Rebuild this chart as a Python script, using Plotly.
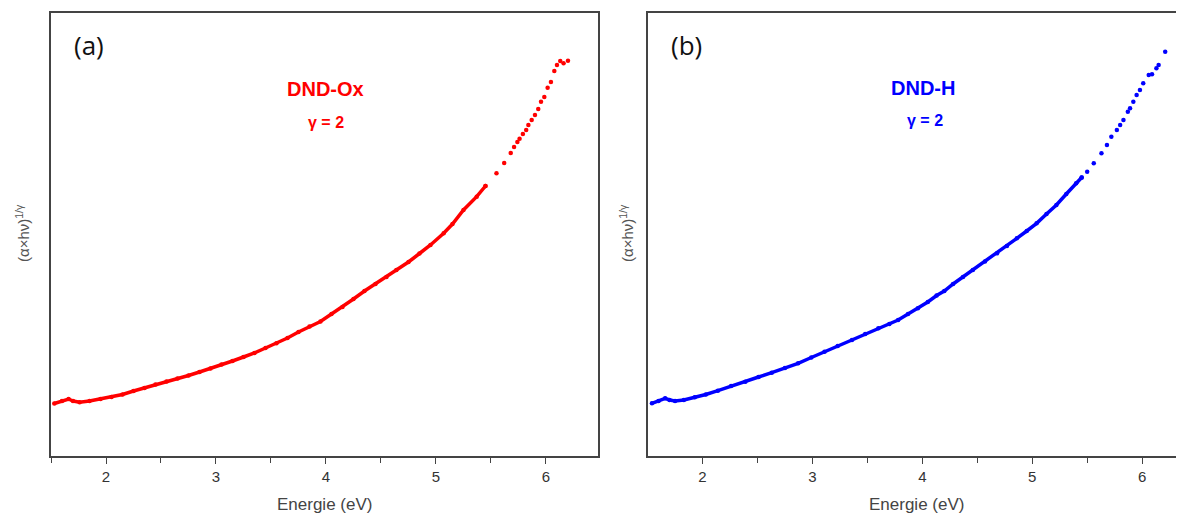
import plotly.graph_objects as go

# Energy (eV) and (alpha*h*nu)^(1/gamma) in arbitrary units
ox_energy = [1.53, 1.60, 1.66, 1.70, 1.76, 1.85, 1.95, 2.05, 2.15, 2.25, 2.35, 2.45, 2.55, 2.65,
             2.75, 2.85, 2.95, 3.05, 3.15, 3.25, 3.35, 3.45, 3.55, 3.65, 3.75, 3.85, 3.95, 4.05,
             4.15, 4.25, 4.35, 4.45, 4.55, 4.64, 4.75, 4.85, 4.95, 5.07, 5.15, 5.25, 5.37, 5.45,
             5.55, 5.62, 5.68, 5.71, 5.74, 5.76, 5.79, 5.82, 5.84, 5.87, 5.90, 5.93, 5.955, 5.985,
             6.015, 6.045, 6.076, 6.10, 6.13, 6.16, 6.20]
ox_value = [52.5, 55, 57, 55, 53.7, 55, 57, 59, 61.5, 65, 68, 71.5, 74.5, 77.5,
            80.5, 84, 87.5, 91.5, 95, 99, 103, 108, 112.7, 118, 124, 129.5, 134.5, 142,
            149, 157, 165, 172, 179, 186, 194, 202.5, 211, 222.7, 232, 246, 259.3, 270,
            282.7, 293, 303, 309, 314, 317.3, 322, 326, 331, 336, 341, 347, 354.3, 359,
            368.3, 374, 385, 391, 395, 392.7, 395.3]

h_energy = [1.54, 1.60, 1.66, 1.70, 1.75, 1.83, 1.93, 2.03, 2.14, 2.26, 2.39, 2.51, 2.63, 2.75,
            2.87, 2.99, 3.11, 3.23, 3.36, 3.48, 3.60, 3.70, 3.78, 3.87, 3.96, 4.05, 4.13, 4.20,
            4.28, 4.37, 4.46, 4.57, 4.68, 4.77, 4.86, 4.95, 5.04, 5.13, 5.22, 5.31, 5.40, 5.45,
            5.50, 5.56, 5.63, 5.68, 5.72, 5.77, 5.80, 5.83, 5.87, 5.89, 5.92, 5.95, 5.98, 6.01,
            6.06, 6.09, 6.13, 6.15, 6.21]
h_value = [52.7, 55, 57.7, 56, 55, 56, 58.7, 61.5, 65.3, 70, 74.3, 79, 83.3, 88,
           92.7, 98.5, 104.3, 110, 116, 122, 127.7, 132, 136, 142, 147.7, 154, 160.5, 165,
           172, 179, 186, 194.5, 202.7, 210, 217.7, 225, 232.7, 242, 251, 262, 272.7, 278.5,
           284.3, 292.7, 302.7, 311, 319.3, 326, 331, 336, 344.3, 347.7, 354.3, 361, 366, 372.7,
           381, 381.7, 387.7, 391, 404.3]

x_ticks = [2, 3, 4, 5, 6]
x_title = "Energie (eV)"
y_title = "(α×hν)<sup>1/γ</sup>"

# page has an 8px body margin; figure placed at (8, 8)
OFF = 8
W, H = 1184 - OFF, 515 - OFF
def px(x):
    return (x - OFF) / W
def py(y):
    return 1 - (y - OFF) / H

DENSE_LIMIT = 5.45  # above this energy the measured points are drawn as separate dots

def split(energy, value):
    lo = [(e, v) for e, v in zip(energy, value) if e <= DENSE_LIMIT + 0.001]
    hi = [(e, v) for e, v in zip(energy, value) if e > DENSE_LIMIT - 0.001]
    return lo, hi

fig = go.Figure()
for energy, value, color, xa, ya in [(ox_energy, ox_value, "#ff0000", "x", "y"),
                                     (h_energy, h_value, "#0000ff", "x2", "y2")]:
    lo, hi = split(energy, value)
    fig.add_trace(go.Scatter(x=[p[0] for p in lo], y=[p[1] for p in lo], mode="lines+markers",
                             line=dict(color=color, width=3.5),
                             marker=dict(color=color, size=4.5),
                             xaxis=xa, yaxis=ya, showlegend=False))
    fig.add_trace(go.Scatter(x=[p[0] for p in hi], y=[p[1] for p in hi], mode="markers",
                             marker=dict(color=color, size=4.5),
                             xaxis=xa, yaxis=ya, showlegend=False))

axcol = "#444444"
common_x = dict(showline=True, linecolor=axcol, linewidth=1.5, mirror=True,
                ticks="outside", ticklen=6, tickwidth=1.2, tickcolor=axcol,
                tickvals=x_ticks, showgrid=False, zeroline=False,
                tickfont=dict(family="Liberation Sans, Arial", size=15, color="#333333"),
                minor=dict(ticks="outside", ticklen=5, tickwidth=1.2, tickcolor=axcol, dtick=0.5,
                           tick0=1.5, showgrid=False))
fig.update_layout(
    width=W, height=H, margin=dict(l=0, r=0, t=0, b=0),
    paper_bgcolor="white", plot_bgcolor="white",
    xaxis=dict(domain=[px(51), px(598)], range=[1.5, 6.473], anchor="y", **common_x),
    yaxis=dict(domain=[py(456), py(13)], range=[0, 443], anchor="x", showline=True,
               linecolor=axcol, linewidth=1.5, mirror=True, showticklabels=False,
               ticks="", showgrid=False, zeroline=False),
    xaxis2=dict(domain=[px(648), 1.0], range=[1.504, 6.381], anchor="y2", **common_x),
    yaxis2=dict(domain=[py(456), py(13)], range=[0, 443], anchor="x2", showline=True,
                linecolor=axcol, linewidth=1.5, mirror=False, showticklabels=False,
                ticks="", showgrid=False, zeroline=False),
)

ann = []
def add(text, x, y, size, color, family="Liberation Sans, Arial", angle=0):
    ann.append(dict(text=text, x=px(x), y=py(y), xref="paper", yref="paper",
                    showarrow=False, xanchor="center", yanchor="middle",
                    textangle=angle, font=dict(family=family, size=size, color=color)))

add(x_title, 324, 504, 17, "#444444")
add(x_title, 916, 504, 17, "#444444")
add(y_title, 22, 233, 15, "#555555", angle=-90)
add(y_title, 626, 233, 15, "#555555", angle=-90)
add("(a)", 89, 45, 26, "#111111", family="Open Sans, Liberation Sans")
add("(b)", 687, 45, 26, "#111111", family="Open Sans, Liberation Sans")
add("<b>DND-Ox</b>", 325, 89, 20, "#ff0000")
add("<b>γ = 2</b>", 326, 122, 16, "#ff0000")
add("<b>DND-H</b>", 923, 88, 20, "#0000ff")
add("<b>γ = 2</b>", 925, 120, 16, "#0000ff")
fig.update_layout(annotations=ann)

fig.write_html("out.html")
